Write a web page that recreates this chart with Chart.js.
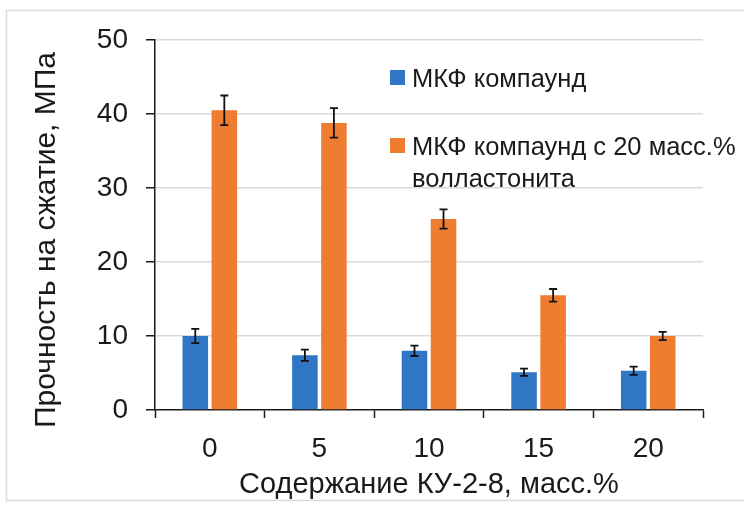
<!DOCTYPE html>
<html>
<head>
<meta charset="utf-8">
<script src="https://cdn.jsdelivr.net/npm/chart.js@4/dist/chart.umd.min.js"></script>
<style>
  html, body { margin: 0; padding: 0; background: #ffffff; }
  #wrap { position: relative; width: 744px; height: 508px; }
  canvas { display: block; }
</style>
</head>
<body>
<div id="wrap"><canvas id="chart" width="744" height="508"></canvas></div>
<script>
// Ion-exchange resin content, wt.%
const categories = ['0', '5', '10', '15', '20'];

// Compressive strength, MPa, and its spread
const compoundValues = [10.0, 7.4, 8.0, 5.1, 5.3];
const compoundErrors = [0.95, 0.75, 0.7, 0.5, 0.55];
const wollastoniteValues = [40.5, 38.8, 25.8, 15.5, 10.0];
const wollastoniteErrors = [2.0, 2.0, 1.3, 0.85, 0.55];

// Series names, one entry per legend line
const compoundName = ['МКФ компаунд'];
const wollastoniteName = ['МКФ компаунд с 20 масс.%', 'волластонита'];

const yTicks = [0, 10, 20, 30, 40, 50];
const yTitle = 'Прочность на сжатие, МПа';
const xTitle = 'Содержание КУ-2-8, масс.%';

const FONT = '"Liberation Sans", Arial, sans-serif';
const BLUE = '#3176C4';
const ORANGE = '#EE7D31';

// Light frame around the whole figure
const framePlugin = {
  id: 'frame',
  beforeDraw(chart) {
    const ctx = chart.ctx;
    ctx.save();
    ctx.fillStyle = '#ffffff';
    ctx.fillRect(0, 0, chart.width, chart.height);
    ctx.strokeStyle = '#dcdcdc';
    ctx.lineWidth = 1.5;
    ctx.strokeRect(6.5, 10.5, chart.width + 10, 490);
    ctx.restore();
  }
};

// Vertical axis title, set slightly below the middle of the plot
const yTitlePlugin = {
  id: 'yTitle',
  afterDraw(chart) {
    const ctx = chart.ctx;
    const area = chart.chartArea;
    ctx.save();
    ctx.translate(47, (area.top + area.bottom) / 2 + 15);
    ctx.rotate(-Math.PI / 2);
    ctx.font = '30px ' + FONT;
    ctx.fillStyle = '#1a1a1a';
    ctx.textAlign = 'center';
    ctx.textBaseline = 'middle';
    ctx.fillText(yTitle, 0, 0);
    ctx.restore();
  }
};

// Error bars drawn through the value scale
const errorBarPlugin = {
  id: 'errorBars',
  afterDatasetsDraw(chart) {
    const ctx = chart.ctx;
    const yScale = chart.scales.y;
    ctx.save();
    ctx.strokeStyle = '#111111';
    ctx.lineWidth = 1.8;
    chart.data.datasets.forEach((ds, di) => {
      const meta = chart.getDatasetMeta(di);
      meta.data.forEach((bar, i) => {
        const v = ds.data[i];
        const e = ds.errors[i];
        const yTop = yScale.getPixelForValue(v + e);
        const yBot = yScale.getPixelForValue(v - e);
        const x = bar.x;
        const cap = 4;
        ctx.beginPath();
        ctx.moveTo(x, yTop); ctx.lineTo(x, yBot);
        ctx.moveTo(x - cap, yTop); ctx.lineTo(x + cap, yTop);
        ctx.moveTo(x - cap, yBot); ctx.lineTo(x + cap, yBot);
        ctx.stroke();
      });
    });
    ctx.restore();
  }
};

// Legend placed inside the plot, with wrapped series names
const insideLegendPlugin = {
  id: 'insideLegend',
  afterDraw(chart) {
    const ctx = chart.ctx;
    const area = chart.chartArea;
    const x0 = area.left + 235;
    const baselines = [[87], [155, 187]];
    ctx.save();
    ctx.font = '25.5px ' + FONT;
    ctx.textBaseline = 'alphabetic';
    ctx.textAlign = 'left';
    chart.data.datasets.forEach((ds, di) => {
      const lines = ds.legendLines;
      const b = baselines[di];
      ctx.fillStyle = ds.backgroundColor;
      ctx.fillRect(x0, b[0] - 17, 15, 15);
      ctx.fillStyle = '#1a1a1a';
      lines.forEach((t, li) => ctx.fillText(t, x0 + 22, b[li]));
    });
    ctx.restore();
  }
};

new Chart(document.getElementById('chart'), {
  type: 'bar',
  data: {
    labels: categories,
    datasets: [
      {
        label: compoundName.join(' '),
        legendLines: compoundName,
        data: compoundValues,
        errors: compoundErrors,
        backgroundColor: BLUE,
        categoryPercentage: 0.53,
        barPercentage: 0.88
      },
      {
        label: wollastoniteName.join(' '),
        legendLines: wollastoniteName,
        data: wollastoniteValues,
        errors: wollastoniteErrors,
        backgroundColor: ORANGE,
        categoryPercentage: 0.53,
        barPercentage: 0.88
      }
    ]
  },
  options: {
    responsive: false,
    animation: false,
    devicePixelRatio: 1,
    layout: { padding: { left: 26, top: 40, right: 41, bottom: 2 } },
    plugins: {
      legend: { display: false },
      tooltip: { enabled: false }
    },
    scales: {
      x: {
        grid: {
          display: true,
          drawOnChartArea: false,
          drawTicks: true,
          tickLength: 8,
          tickColor: '#1a1a1a',
          tickWidth: 1.5,
          offset: true
        },
        border: { display: true, color: '#1a1a1a', width: 1.5 },
        ticks: {
          color: '#1a1a1a',
          font: { family: FONT, size: 28 },
          padding: 14,
          maxRotation: 0
        },
        title: {
          display: true,
          text: xTitle,
          color: '#1a1a1a',
          font: { family: FONT, size: 29 },
          padding: { top: 0, bottom: 4 }
        },
        afterFit(scale) { scale.height = 96; }
      },
      y: {
        min: 0,
        max: 50,
        afterBuildTicks(scale) { scale.ticks = yTicks.map(v => ({ value: v })); },
        grid: {
          color: (c) => c.tick && c.tick.value === 0 ? 'rgba(0,0,0,0)' : '#d9d9d9',
          lineWidth: 1.5,
          drawTicks: true,
          tickLength: 9,
          tickColor: '#1a1a1a',
          tickWidth: 1.5
        },
        border: { display: true, color: '#1a1a1a', width: 1.5 },
        ticks: {
          color: '#1a1a1a',
          font: { family: FONT, size: 28 },
          padding: 18
        },
        title: { display: false },
        afterFit(scale) { scale.width = 129; }
      }
    }
  },
  plugins: [framePlugin, errorBarPlugin, insideLegendPlugin, yTitlePlugin]
});
</script>
</body>
</html>
